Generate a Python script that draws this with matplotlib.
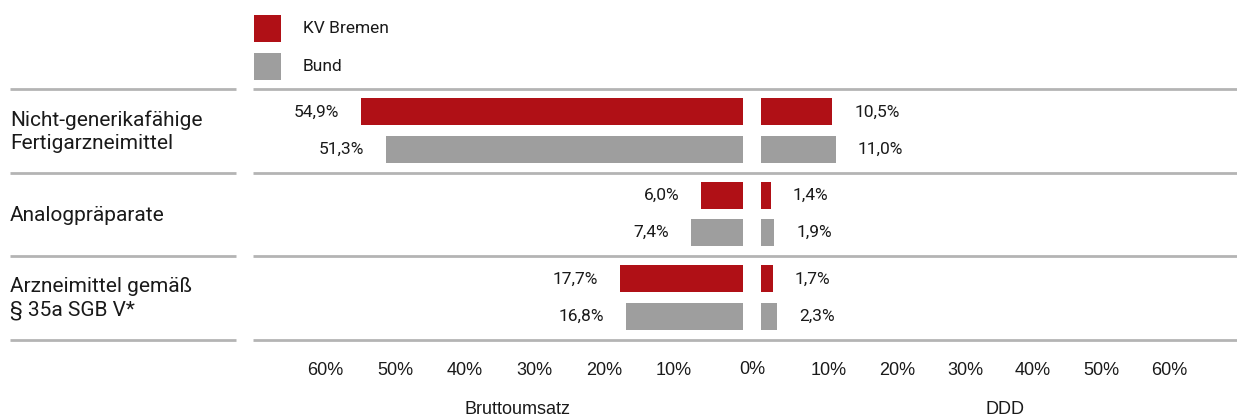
import matplotlib
matplotlib.use("Agg")
from matplotlib import pyplot as plt
from matplotlib.patches import Rectangle
import numpy as np

# data
categories = ["Nicht-generikafähige\nFertigarzneimittel", "Analogpräparate",
              "Arzneimittel gemäß\n§ 35a SGB V*"]
series = ["KV Bremen", "Bund"]
umsatz_kv = [54.9, 6.0, 17.7]
umsatz_bund = [51.3, 7.4, 16.8]
ddd_kv = [10.5, 1.4, 1.7]
ddd_bund = [11.0, 1.9, 2.3]
ticks = [10, 20, 30, 40, 50, 60]

red = "#B01016"
grey = "#9E9E9E"
line_col = "#B4B4B4"
txt = "#1A1A1A"
main_font = ["Roboto", "DejaVu Sans"]
narrow_font = ["Liberation Sans Narrow", "Liberation Sans", "DejaVu Sans"]

W, H = 1237, 420
fig = plt.figure(figsize=(W / 100, H / 100), dpi=100)


def px_axes(x0, y0, x1, y1):
    # axes placed by pixel box (top-left origin)
    return fig.add_axes([x0 / W, 1 - y1 / H, (x1 - x0) / W, (y1 - y0) / H])


# background axes in pixel coordinates for lines, legend, labels
bg = px_axes(0, 0, W, H)
bg.set_xlim(0, W)
bg.set_ylim(H, 0)
bg.axis("off")

row_top, row_h = 89, 83.5
for i in range(4):
    y = row_top + i * row_h
    bg.plot([10, 236], [y, y], color=line_col, lw=2, solid_capstyle="butt")
    bg.plot([253, W], [y, y], color=line_col, lw=2, solid_capstyle="butt")

for i, cat in enumerate(categories):
    bg.text(10, row_top + (i + 0.5) * row_h + 1, cat, ha="left", va="center",
            fontsize=15, family=main_font, color=txt, linespacing=1.3)

# legend
for j, (name, col) in enumerate(zip(series, [red, grey])):
    bg.add_patch(Rectangle((254, 15 + j * 38), 27, 27, color=col, lw=0))
    bg.text(303, 28.5 + j * 38, name, ha="left", va="center",
            fontsize=12.5, family=main_font, color=txt)

bg.text(752, 369, "0%", ha="center", va="center", fontsize=13,
        family=narrow_font, color=txt)
bg.text(518, 410, "Bruttoumsatz", ha="center", va="center", fontsize=13,
        family=narrow_font, color=txt)
bg.text(1005, 410, "DDD", ha="center", va="center", fontsize=13,
        family=narrow_font, color=txt)

# bar axes
y = np.arange(len(categories))
kv_off, bund_off, bar_h = 0.275, 0.72, 0.323

axL = px_axes(743 - 60 * 6.96, row_top, 743, row_top + 3 * row_h)
axR = px_axes(761, row_top, 761 + 60 * 6.8, row_top + 3 * row_h)

for ax, kv, bund, side in [(axL, umsatz_kv, umsatz_bund, -1),
                           (axR, ddd_kv, ddd_bund, 1)]:
    ax.patch.set_alpha(0)
    b1 = ax.barh(y + kv_off, kv, height=bar_h, color=red)
    b2 = ax.barh(y + bund_off, bund, height=bar_h, color=grey)
    ax.set_ylim(3, 0)
    ax.set_xlim(0, 60)
    if side < 0:
        ax.invert_xaxis()
    for bars, vals in [(b1, kv), (b2, bund)]:
        for rect, v in zip(bars, vals):
            ax.annotate(f"{v:.1f}%".replace(".", ","),
                        (v, rect.get_y() + rect.get_height() / 2),
                        xytext=(16 * side, 0), textcoords="offset points",
                        ha="left" if side > 0 else "right", va="center",
                        fontsize=12.5, family=main_font, color=txt)
    ax.set_xticks(ticks)
    ax.set_xticklabels([f"{t}%" for t in ticks], family=narrow_font,
                       fontsize=13, color=txt)
    ax.tick_params(axis="x", length=0, pad=16)
    ax.set_yticks([])
    for s in ax.spines.values():
        s.set_visible(False)

fig.savefig("out.png", dpi=100)
